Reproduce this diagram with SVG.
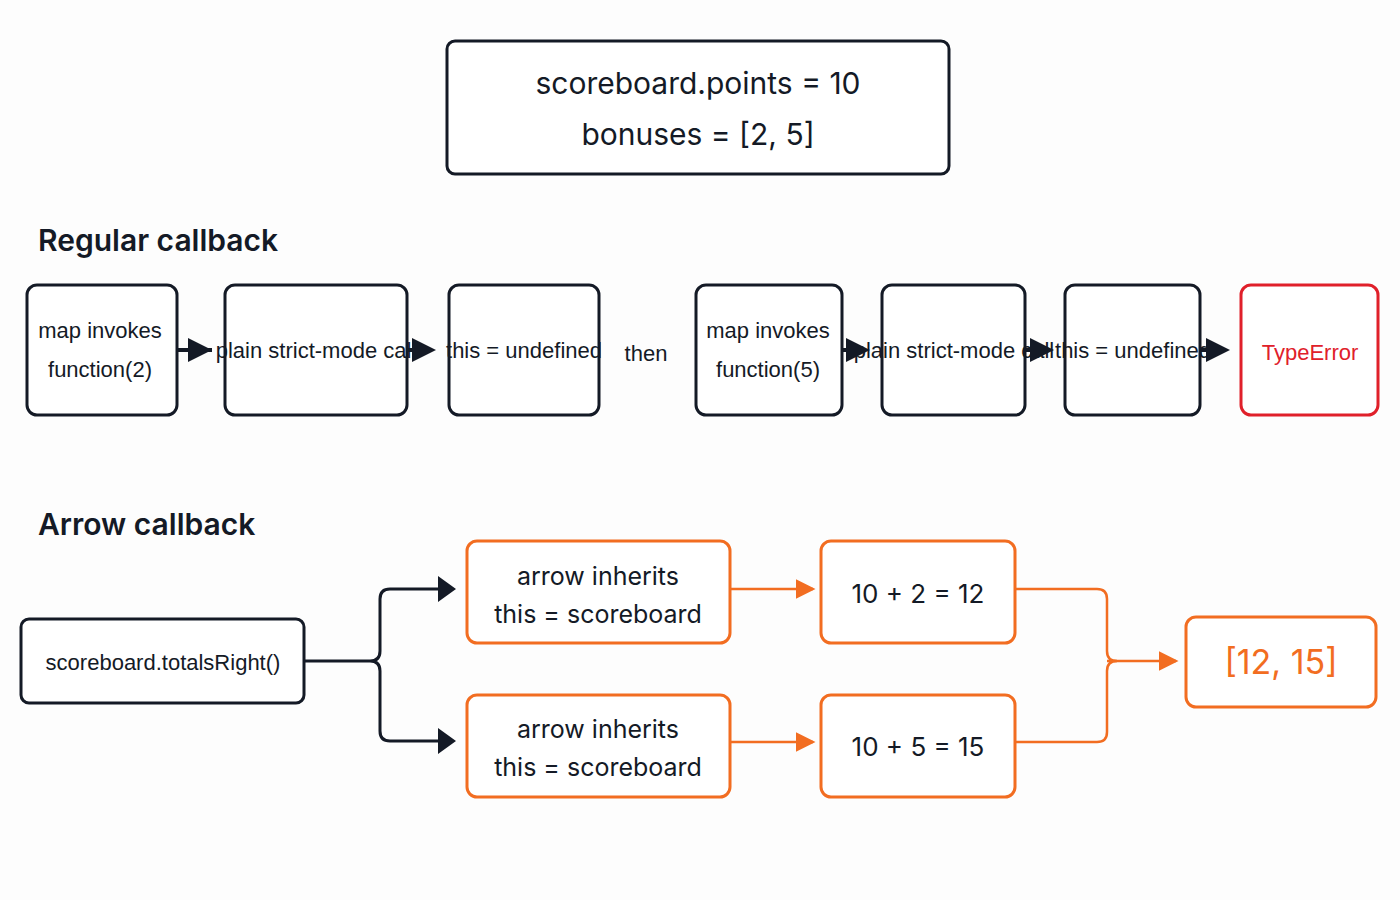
<svg xmlns="http://www.w3.org/2000/svg" width="1400" height="900" viewBox="0 0 1400 900">
<style>
.k{fill:#fff;stroke:#141a26;stroke-width:3}
.o{fill:#fff;stroke:#f26d21;stroke-width:3}
.r{fill:#fff;stroke:#e0202a;stroke-width:3}
text{font-family:"Liberation Sans Narrow","Liberation Sans",sans-serif;fill:#141a26;text-anchor:middle}
.n{font-size:22px}
.w{font-family:Inter,"Liberation Sans",sans-serif}
.h{font-family:Inter,"Liberation Sans",sans-serif;font-size:30px;font-weight:600;text-anchor:start}
.ct{fill:none;stroke:#141a26;stroke-width:4}
.co{fill:none;stroke:#f26d21;stroke-width:2.5}
</style>
<defs>
<marker id="ak" markerWidth="6" markerHeight="6" refX="5" refY="3" orient="auto" markerUnits="strokeWidth"><path d="M0,0L6,3L0,6z" fill="#141a26"/></marker>
<marker id="ao" markerWidth="8" markerHeight="8" refX="7" refY="4" orient="auto" markerUnits="strokeWidth"><path d="M0,0L8,4L0,8z" fill="#f26d21"/></marker>
</defs>
<rect width="1400" height="900" fill="#fdfdfd"/>
<g id="top"><rect class="k" x="447" y="41" width="502" height="133" rx="8"/>
<text class="w" x="698" y="94" font-size="30">scoreboard.points = 10</text>
<text class="w" x="698" y="145" font-size="30">bonuses = [2, 5]</text></g>
<text class="h" x="38" y="251">Regular callback</text>
<text class="h" x="38" y="535">Arrow callback</text>
<g id="r1"><rect class="k" x="27" y="285" width="150" height="130" rx="10"/><text class="n" x="100" y="338">map invokes</text><text class="n" x="100" y="377">function(2)</text></g>
<g id="r2"><rect class="k" x="225" y="285" width="182" height="130" rx="10"/><text class="n" x="316" y="358">plain strict-mode call</text></g>
<g id="r3"><rect class="k" x="449" y="285" width="150" height="130" rx="10"/><text class="n" x="524" y="358">this = undefined</text></g>
<text class="n" x="646" y="361" font-size="25">then</text>
<g id="r4"><rect class="k" x="696" y="285" width="146" height="130" rx="10"/><text class="n" x="768" y="338">map invokes</text><text class="n" x="768" y="377">function(5)</text></g>
<g id="r5"><rect class="k" x="882" y="285" width="143" height="130" rx="10"/><text class="n" x="954" y="358" font-size="18">plain strict-mode call</text></g>
<g id="r6"><rect class="k" x="1065" y="285" width="135" height="130" rx="10"/><text class="n" x="1133" y="358" font-size="20">this = undefined</text></g>
<g id="r7"><rect class="r" x="1241" y="285" width="137" height="130" rx="10"/><text class="n" x="1310" y="360" font-size="27" style="fill:#e0202a">TypeError</text></g>
<g id="a0"><rect class="k" x="21" y="619" width="283" height="84" rx="8"/><text class="n" x="163" y="670">scoreboard.totalsRight()</text></g>
<g id="a1"><rect class="o" x="467" y="541" width="263" height="102" rx="10"/><text class="w" x="598" y="585" font-size="25">arrow inherits</text><text class="w" x="598" y="623" font-size="25">this = scoreboard</text></g>
<g id="a2"><rect class="o" x="467" y="695" width="263" height="102" rx="10"/><text class="w" x="598" y="738" font-size="25">arrow inherits</text><text class="w" x="598" y="776" font-size="25">this = scoreboard</text></g>
<g id="a3"><rect class="o" x="821" y="541" width="194" height="102" rx="10"/><text class="w" x="918" y="603" font-size="26">10 + 2 = 12</text></g>
<g id="a4"><rect class="o" x="821" y="695" width="194" height="102" rx="10"/><text class="w" x="918" y="756" font-size="26">10 + 5 = 15</text></g>
<g id="a5"><rect class="o" x="1186" y="617" width="190" height="90" rx="10"/><text class="w" x="1281" y="674" font-size="34" style="fill:#f26d21">[12, 15]</text></g>
<g id="connectors">
<path class="ct" d="M177,350H212"/><path class="ct" marker-end="url(#ak)" d="M177,350H208"/>
<path class="ct" marker-end="url(#ak)" d="M407,350H432"/>
<path class="ct" marker-end="url(#ak)" d="M842,350H866"/>
<path class="ct" marker-end="url(#ak)" d="M1025,350H1050"/>
<path class="ct" marker-end="url(#ak)" d="M1200,350H1226"/>
<path fill="none" stroke="#141a26" stroke-width="3" d="M304,661H370Q380,661 380,651V599Q380,589 390,589H440M370,661Q380,661 380,671V731Q380,741 390,741H440"/>
<path d="M438,576L456,589L438,602z M438,728L456,741L438,754z" fill="#141a26"/>
<path class="co" marker-end="url(#ao)" d="M730,589H813"/>
<path class="co" marker-end="url(#ao)" d="M730,742H813"/>
<path class="co" d="M1015,589H1097Q1107,589 1107,599V651Q1107,661 1117,661M1015,742H1097Q1107,742 1107,732V671Q1107,661 1117,661"/>
<path class="co" marker-end="url(#ao)" d="M1107,661H1176"/>
</g>
</svg>
